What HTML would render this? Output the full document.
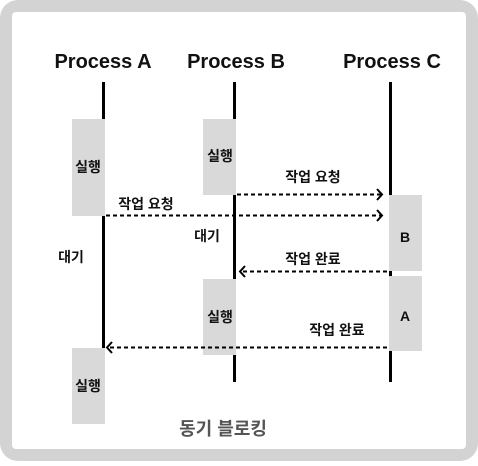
<!DOCTYPE html>
<html><head><meta charset="utf-8"><style>
body{margin:0;width:478px;height:461px;overflow:hidden;background:#fff}
</style></head><body>
<svg width="478" height="461" xmlns="http://www.w3.org/2000/svg" font-family="Liberation Sans, Noto Sans CJK KR, sans-serif" font-weight="bold">
<rect x="0" y="0" width="478" height="461" rx="18" fill="#d3d3d3"/>
<rect x="12" y="12" width="454" height="437" rx="4" fill="#fff"/>
<g font-size="20" text-anchor="middle" fill="#111">
<text x="103" y="68">Process A</text>
<text x="236" y="68">Process B</text>
<text x="392" y="68">Process C</text>
</g>
<g fill="#d9d9d9">
<rect x="72" y="119" width="33" height="97"/>
<rect x="203" y="119" width="33" height="76"/>
<rect x="389" y="195" width="33" height="76"/>
<rect x="389" y="276" width="33" height="75"/>
<rect x="203" y="279" width="33" height="76"/>
<rect x="72" y="348" width="33" height="76"/>
</g>
<g stroke="#000" stroke-width="3">
<line x1="103.5" y1="82" x2="103.5" y2="119"/>
<line x1="103.5" y1="216" x2="103.5" y2="348"/>
<line x1="234.5" y1="82" x2="234.5" y2="119"/>
<line x1="234.5" y1="195" x2="234.5" y2="279"/>
<line x1="234.5" y1="355" x2="234.5" y2="382"/>
<line x1="390.5" y1="82" x2="390.5" y2="195"/>
<line x1="390.5" y1="271" x2="390.5" y2="276"/>
<line x1="390.5" y1="351" x2="390.5" y2="382"/>
</g>
<g stroke="#000" stroke-width="2" fill="none">
<line x1="237" y1="194.5" x2="382" y2="194.5" stroke-dasharray="4,3"/>
<polyline points="377,189 382,194.5 377,200"/>
<line x1="106" y1="215.5" x2="382" y2="215.5" stroke-dasharray="4,3"/>
<polyline points="377,210 382,215.5 377,221"/>
<line x1="243" y1="271.5" x2="388" y2="271.5" stroke-dasharray="4,3"/>
<polyline points="245,266 240,271.5 245,277"/>
<line x1="110" y1="347.5" x2="387" y2="347.5" stroke-dasharray="4,3"/>
<polyline points="112,342 107,347.5 112,353"/>
</g>
<g font-size="14" text-anchor="middle" fill="#111">
<text x="88" y="172">실행</text>
<text x="220" y="161">실행</text>
<text x="220" y="322">실행</text>
<text x="88" y="391">실행</text>
<text x="405" y="242">B</text>
<text x="405" y="321">A</text>
<text x="313" y="182">작업 요청</text>
<text x="146" y="209">작업 요청</text>
<text x="313" y="264">작업 완료</text>
<text x="337" y="335">작업 완료</text>
<text x="71" y="262">대기</text>
<text x="207" y="241">대기</text>
</g>
<text x="223" y="435" font-size="18" text-anchor="middle" fill="#555">동기 블로킹</text>
</svg>
</body></html>
